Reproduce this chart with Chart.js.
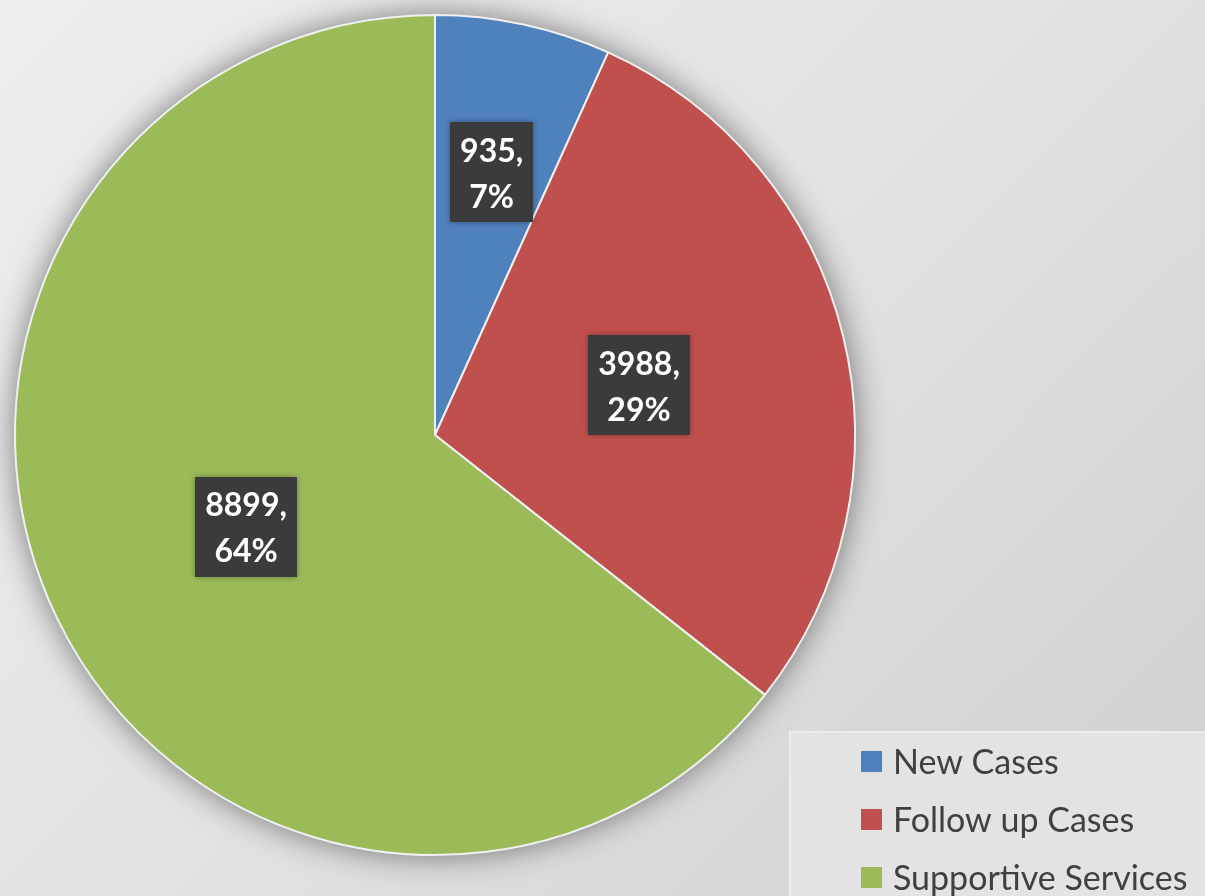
<!DOCTYPE html>
<html>
<head>
<meta charset="utf-8">
<script src="https://cdn.jsdelivr.net/npm/chart.js@4.4.1/dist/chart.umd.min.js"></script>
<style>
    html, body { margin: 0; padding: 0; }
    body {
        width: 1205px;
        height: 896px;
        overflow: hidden;
        background: linear-gradient(135deg, #eeeeee 0%, #e2e2e2 50%, #cfcfcf 100%);
    }
    #wrap { position: relative; width: 1205px; height: 896px; }
</style>
</head>
<body>
<div id="wrap"><canvas id="caseChart" width="1205" height="896"></canvas></div>
<script>
// Chart data
const categories = ['New Cases', 'Follow up Cases', 'Supportive Services'];
const caseCounts = [935, 3988, 8899];
const percentLabels = ['7%', '29%', '64%'];
const sliceColors = ['#4f81bd', '#c0504d', '#9bbb59'];

// where each value label sits, as a fraction of the radius
const labelRadius = [0.64, 0.5, 0.5];

/**
 * Soft shadow under the pie, drawn before the slices
 */
const pieShadow = {
    id: 'pieShadow',
    beforeDatasetsDraw(chart) {
        const arc = chart.getDatasetMeta(0).data[0];
        if (!arc) return;
        const ctx = chart.ctx;
        ctx.save();
        ctx.shadowColor = 'rgba(0, 0, 0, 0.5)';
        ctx.shadowBlur = 32;
        ctx.fillStyle = '#9bbb59';
        ctx.beginPath();
        ctx.arc(arc.x, arc.y, arc.outerRadius, 0, Math.PI * 2);
        ctx.fill();
        ctx.restore();
    }
};

/**
 * Dark boxes with value and percentage on each slice
 */
const valueBoxes = {
    id: 'valueBoxes',
    afterDatasetsDraw(chart) {
        const ctx = chart.ctx;
        const meta = chart.getDatasetMeta(0);
        ctx.save();
        ctx.font = 'bold 32px Lato';
        ctx.textAlign = 'center';
        ctx.textBaseline = 'middle';
        meta.data.forEach((arc, i) => {
            const mid = (arc.startAngle + arc.endAngle) / 2;
            const r = arc.outerRadius * labelRadius[i];
            const x = arc.x + Math.cos(mid) * r;
            const y = arc.y + Math.sin(mid) * r;
            const lines = [caseCounts[i] + ',', percentLabels[i]];
            const w = Math.max(...lines.map(t => ctx.measureText(t).width)) + 20;
            const lineH = 46;
            const h = lineH * 2 + 8;
            ctx.shadowColor = 'rgba(0, 0, 0, 0.35)';
            ctx.shadowBlur = 6;
            ctx.fillStyle = '#3b3b3b';
            ctx.fillRect(Math.round(x - w / 2), Math.round(y - h / 2), Math.round(w), h);
            ctx.shadowBlur = 0;
            ctx.fillStyle = '#ffffff';
            ctx.fillText(lines[0], x, y - lineH / 2 + 2);
            ctx.fillText(lines[1], x, y + lineH / 2 + 2);
        });
        ctx.restore();
    }
};

/**
 * Legend box in the lower right corner
 */
const cornerLegend = {
    id: 'cornerLegend',
    afterDraw(chart) {
        const ctx = chart.ctx;
        ctx.save();
        ctx.fillStyle = '#e3e3e3';
        ctx.fillRect(790, 732, 420, 170);
        ctx.strokeStyle = '#ededed';
        ctx.lineWidth = 2;
        ctx.strokeRect(790, 732, 420, 170);
        ctx.font = '34px Lato';
        ctx.textBaseline = 'middle';
        categories.forEach((name, i) => {
            const y = 762 + i * 58;
            ctx.fillStyle = sliceColors[i];
            ctx.fillRect(861, y - 11, 21, 21);
            ctx.fillStyle = '#404040';
            ctx.fillText(name, 893, y + 1);
        });
        ctx.restore();
    }
};

const ctx = document.getElementById('caseChart').getContext('2d');
const caseChart = new Chart(ctx, {
    type: 'pie',
    data: {
        labels: categories,
        datasets: [{
            data: caseCounts,
            backgroundColor: sliceColors,
            borderColor: '#f0f0f0',
            borderWidth: 2
        }]
    },
    options: {
        responsive: false,
        animation: false,
        layout: {
            padding: { left: 14, top: 14, right: 349, bottom: 40 }
        },
        plugins: {
            legend: { display: false },
            tooltip: { enabled: false }
        }
    },
    plugins: [pieShadow, valueBoxes, cornerLegend]
});
</script>
</body>
</html>
